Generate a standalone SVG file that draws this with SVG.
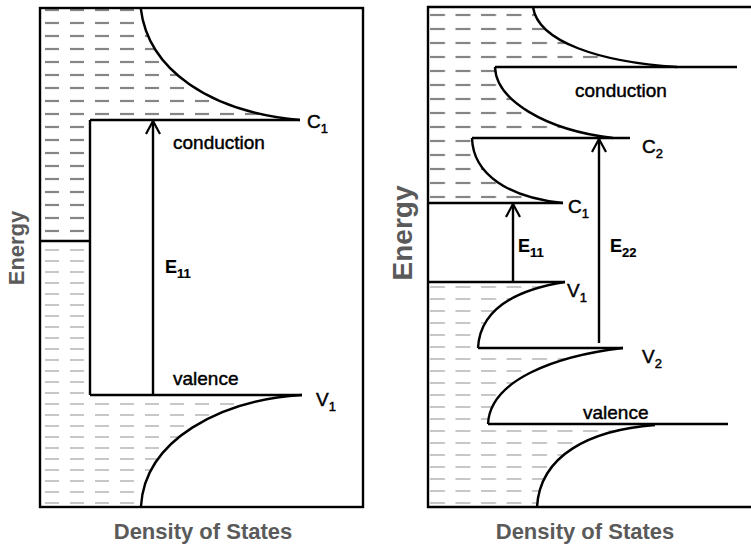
<svg xmlns="http://www.w3.org/2000/svg" width="751" height="548" viewBox="0 0 751 548">
<style>
.fr{fill:none;stroke:#000;stroke-width:2.4}
.ln{fill:none;stroke:#000;stroke-width:2.4}
.cv{fill:none;stroke:#000;stroke-width:2.4}
.dk{stroke:#858585;stroke-width:2.2}
.lt{stroke:#bdbdbd;stroke-width:1.7}
.lab{font-family:"Liberation Sans",Arial,sans-serif;fill:#000;stroke:#000;stroke-width:0.45}
.big{font-size:19px}
.sub{font-size:13px}
.eb{font-size:18px;font-weight:bold;stroke-width:0.2}
.ax{font-family:"Liberation Sans",Arial,sans-serif;fill:#5a5a5a;font-weight:bold;font-size:22px}
</style>
<defs>
<marker id="ah" viewBox="0 0 16 16" refX="14" refY="8" markerWidth="16" markerHeight="16" markerUnits="userSpaceOnUse" orient="auto">
<path d="M1,1 L14,8 L1,15" fill="none" stroke="#000" stroke-width="2.2"/>
</marker>
<pattern id="pLU" patternUnits="userSpaceOnUse" x="42" y="4" width="25" height="13"><line x1="3" y1="6" x2="17" y2="6" class="dk"/></pattern>
<pattern id="pLL" patternUnits="userSpaceOnUse" x="42" y="244" width="25" height="11"><line x1="3" y1="6" x2="17" y2="6" class="lt"/></pattern>
<pattern id="pRU" patternUnits="userSpaceOnUse" x="428" y="8" width="25.5" height="14"><line x1="2" y1="7" x2="17" y2="7" class="dk"/></pattern>
<pattern id="pRL" patternUnits="userSpaceOnUse" x="428" y="280" width="25.5" height="12"><line x1="2" y1="7" x2="17" y2="7" class="lt"/></pattern>
</defs>

<g id="fills">
<path d="M41,9 H140.7 C148,70 210,112 300,120 H90 V241 H41 Z" fill="url(#pLU)"/>
<path d="M41,241 H90 V395 H302 C220,400 145,440 141,506 H41 Z" fill="url(#pLL)"/>
<path d="M429,8 H533 C538,42 600,62 677,67 H495 C496,100 545,130 613,138 H472 C473,175 510,198 563,203 H429 Z" fill="url(#pRU)"/>
<path d="M429,282 H565 C515,290 480,310 478,348 H623 C555,356 490,380 488,424 H655 C590,430 540,455 537,507 H429 Z" fill="url(#pRL)"/>
</g>

<g id="left-panel">
<rect x="40" y="8" width="323" height="499" class="fr"/>
<path d="M140.7,8 C148,70 210,112 300,120" class="cv"/>
<path d="M302,395 C220,400 145,440 141,506" class="cv"/>
<path d="M90,120 H300 M90,120 V395 M90,395 H302 M40,241 H90" class="ln"/>
</g>

<g id="right-panel">
<path d="M752,7 H428 V507 H752" class="fr"/>
<path d="M533,7 C538,42 600,62 677,67" class="cv"/>
<path d="M495,67 C496,100 545,130 613,138" class="cv"/>
<path d="M472,138 C473,175 510,198 563,203" class="cv"/>
<path d="M565,282 C515,290 480,310 478,348" class="cv"/>
<path d="M623,348 C555,356 490,380 488,424" class="cv"/>
<path d="M655,425 C590,430 540,455 537,507" class="cv"/>
<path d="M495,67 H737 M472,138 H630 M428,203 H563 M428,282 H565 M478,348 H623 M488,424 H728" class="ln"/>
</g>

<g id="connectors">
<line x1="153" y1="395" x2="153" y2="121" class="ln" marker-end="url(#ah)"/>
<line x1="513" y1="282" x2="513" y2="204" class="ln" marker-end="url(#ah)"/>
<line x1="599" y1="343" x2="599" y2="139" class="ln" marker-end="url(#ah)"/>
</g>

<g id="labels">
<text class="lab big" x="173" y="149">conduction</text>
<text class="lab big" x="173" y="385">valence</text>
<text class="lab big" x="307" y="128">C<tspan class="sub" dy="5">1</tspan></text>
<text class="lab big" x="316" y="406">V<tspan class="sub" dy="5">1</tspan></text>
<text class="lab eb" x="165" y="273">E<tspan class="sub" dy="5">11</tspan></text>

<text class="lab big" x="575" y="97">conduction</text>
<text class="lab big" x="583" y="419">valence</text>
<text class="lab big" x="642" y="153">C<tspan class="sub" dy="5">2</tspan></text>
<text class="lab big" x="568" y="213">C<tspan class="sub" dy="5">1</tspan></text>
<text class="lab big" x="567" y="297">V<tspan class="sub" dy="5">1</tspan></text>
<text class="lab big" x="642" y="363">V<tspan class="sub" dy="5">2</tspan></text>
<text class="lab eb" x="518" y="252">E<tspan class="sub" dy="5">11</tspan></text>
<text class="lab eb" x="610" y="252">E<tspan class="sub" dy="5">22</tspan></text>

<text class="ax" x="203" y="539" text-anchor="middle">Density of States</text>
<text class="ax" x="585" y="539" text-anchor="middle">Density of States</text>
<text class="ax" transform="translate(24,248) rotate(-90)" text-anchor="middle">Energy</text>
<text class="ax" transform="translate(412,233) rotate(-90)" text-anchor="middle" style="font-size:28px">Energy</text>
</g>
</svg>
